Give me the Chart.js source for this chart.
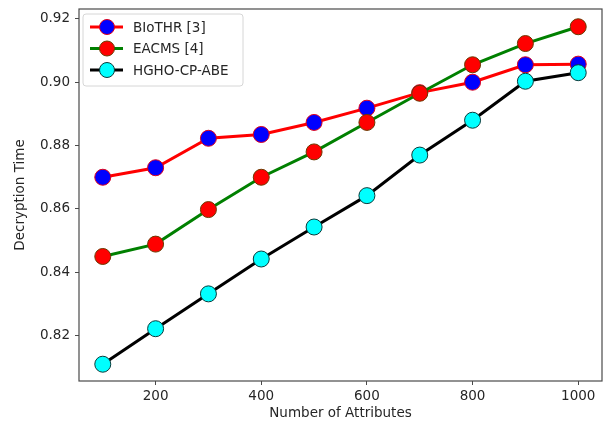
<!DOCTYPE html>
<html>
<head>
<meta charset="utf-8">
<script src="https://cdn.jsdelivr.net/npm/chart.js@4"></script>
<style>
  html, body { margin: 0; padding: 0; background: #fff; }
  #wrap { width: 611px; height: 428px; }
</style>
</head>
<body>
<div id="wrap"><canvas id="grafico" width="611" height="428"></canvas></div>
<script>
// Dados
const atributos = [100, 200, 300, 400, 500, 600, 700, 800, 900, 1000];
const biothr = [0.8700, 0.8730, 0.8823, 0.8835, 0.8873, 0.8918, 0.8967, 0.9000, 0.9055, 0.9057];
const eacms = [0.8450, 0.8489, 0.8598, 0.8700, 0.8780, 0.8873, 0.8965, 0.9055, 0.9122, 0.9175];
const hgho = [0.8110, 0.8222, 0.8332, 0.8442, 0.8543, 0.8642, 0.8770, 0.8880, 0.9003, 0.9030];
const ticksX = [200, 400, 600, 800, 1000];
const ticksY = [0.82, 0.84, 0.86, 0.88, 0.90, 0.92];

const fonte = { family: 'DejaVu Sans', size: 13.5 };
const corTexto = '#262626';

const pontos = (vals) => atributos.map((x, i) => ({ x: x, y: vals[i] }));

const series = [
  { label: 'BIoTHR [3]', data: pontos(biothr), borderColor: '#ff0000', pointBackgroundColor: '#0000ff', pointBorderColor: '#e0001a', order: 3 },
  { label: 'EACMS [4]', data: pontos(eacms), borderColor: '#008000', pointBackgroundColor: '#ff0000', pointBorderColor: '#6b3a00', order: 2 },
  { label: 'HGHO-CP-ABE', data: pontos(hgho), borderColor: '#000000', pointBackgroundColor: '#00ffff', pointBorderColor: '#0a3a3a', order: 1 }
];

// Moldura + legenda no estilo matplotlib
const moldura = {
  id: 'moldura',
  afterDatasetsDraw(chart) {
    const { ctx, chartArea: a } = chart;
    ctx.save();
    ctx.strokeStyle = '#4a4a4a';
    ctx.lineWidth = 1.2;
    ctx.strokeRect(a.left, a.top, a.right - a.left, a.bottom - a.top);

    // legenda
    const bx = a.left + 4, by = a.top + 5, bw = 160, bh = 72;
    ctx.fillStyle = 'rgba(255,255,255,0.8)';
    ctx.strokeStyle = '#d6d6d6';
    ctx.lineWidth = 1;
    ctx.beginPath();
    ctx.roundRect(bx, by, bw, bh, 3);
    ctx.fill();
    ctx.stroke();

    ctx.font = fonte.size + 'px ' + fonte.family;
    ctx.textBaseline = 'middle';
    series.forEach((s, i) => {
      const y = by + 13 + i * 21.5;
      ctx.strokeStyle = s.borderColor;
      ctx.lineWidth = 3;
      ctx.beginPath();
      ctx.moveTo(bx + 7, y);
      ctx.lineTo(bx + 40, y);
      ctx.stroke();
      ctx.beginPath();
      ctx.arc(bx + 24, y, 7.5, 0, Math.PI * 2);
      ctx.fillStyle = s.pointBackgroundColor;
      ctx.fill();
      ctx.strokeStyle = s.pointBorderColor;
      ctx.lineWidth = 1;
      ctx.stroke();
      ctx.fillStyle = corTexto;
      ctx.fillText(s.label, bx + 50, y + 1);
    });
    ctx.restore();
  }
};

const ctx = document.getElementById('grafico').getContext('2d');
new Chart(ctx, {
  type: 'line',
  data: {
    datasets: series.map(s => ({
      ...s,
      borderWidth: 3,
      tension: 0,
      pointRadius: 8,
      pointHoverRadius: 8,
      pointBorderWidth: 1,
      fill: false
    }))
  },
  options: {
    responsive: false,
    animation: false,
    layout: { padding: { top: 7, right: 7, left: 0, bottom: 0 } },
    plugins: { legend: { display: false }, tooltip: { enabled: false } },
    scales: {
      x: {
        type: 'linear',
        min: 55,
        max: 1045,
        afterBuildTicks: (s) => { s.ticks = ticksX.map(v => ({ value: v })); },
        afterFit: (s) => { s.height = 47; s.paddingLeft = 0; s.paddingRight = 0; },
        grid: { drawOnChartArea: false, drawTicks: true, tickLength: 4, color: '#4a4a4a' },
        border: { display: false },
        ticks: { font: fonte, color: corTexto, padding: 3, maxRotation: 0, callback: (v) => String(v) },
        title: { display: true, text: 'Number of Attributes', font: fonte, color: corTexto, padding: { top: 0, bottom: 6 } }
      },
      y: {
        min: 0.8057,
        max: 0.9231,
        afterBuildTicks: (s) => { s.ticks = ticksY.map(v => ({ value: v })); },
        afterFit: (s) => { s.width = 79; s.paddingTop = 0; s.paddingBottom = 0; },
        grid: { drawOnChartArea: false, drawTicks: true, tickLength: 4, color: '#4a4a4a' },
        border: { display: false },
        ticks: { font: fonte, color: corTexto, padding: 5, callback: (v) => v.toFixed(2) },
        title: { display: true, text: 'Decryption Time', font: fonte, color: corTexto, padding: { top: 12, bottom: 0 } }
      }
    }
  },
  plugins: [moldura]
});
</script>
</body>
</html>
